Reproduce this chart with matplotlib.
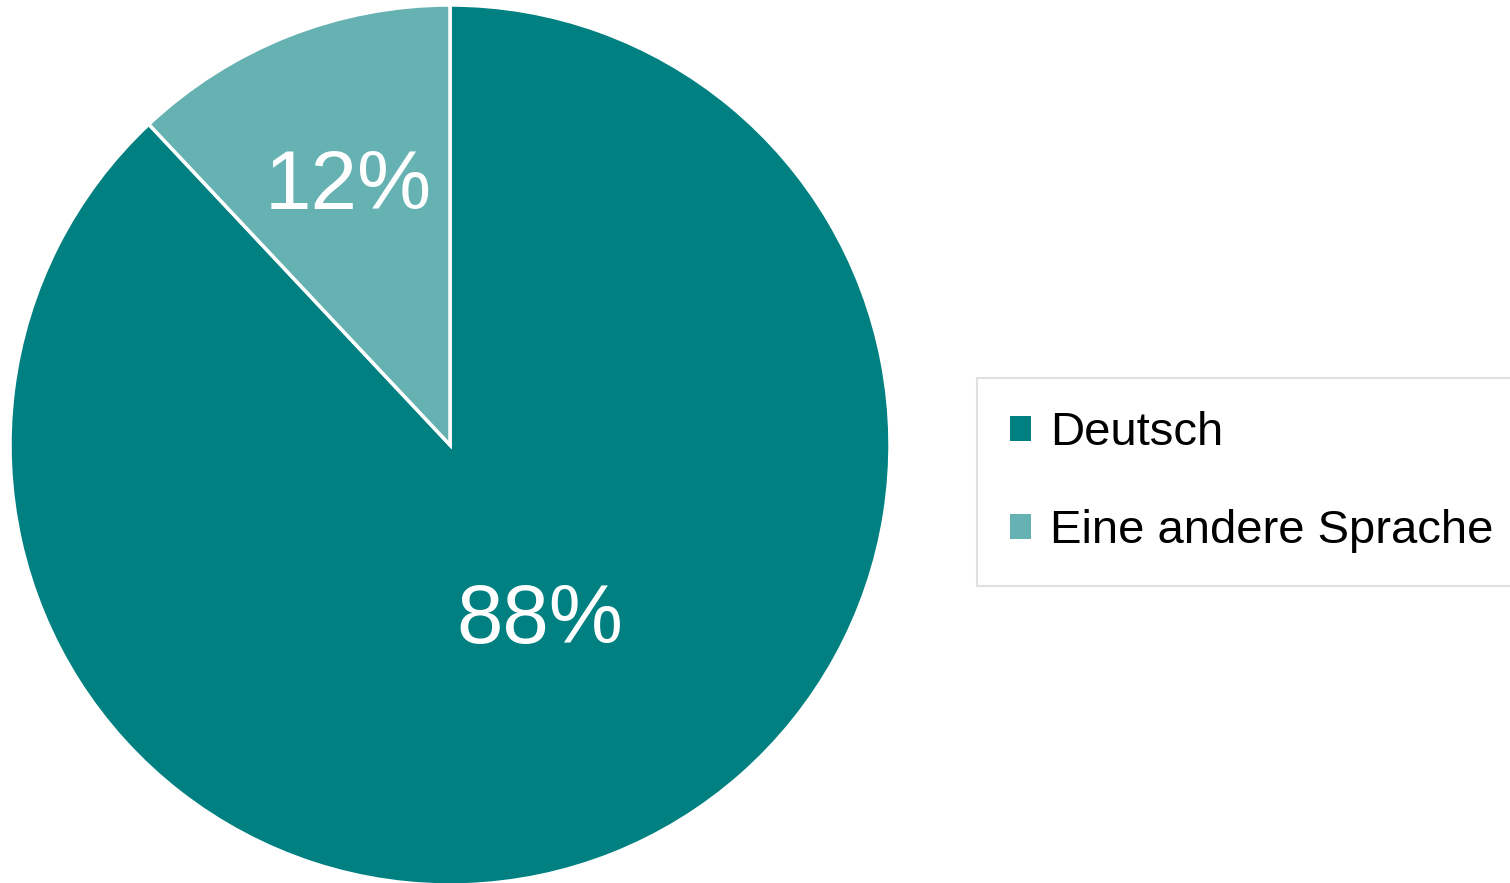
import matplotlib
matplotlib.use('Agg')
import matplotlib.pyplot as plt
from matplotlib.patches import Patch

plt.rcParams['font.family'] = ['Liberation Sans', 'DejaVu Sans']

# data
labels = ['Deutsch', 'Eine andere Sprache']
shares = [88, 12]
colors = ['#008080', '#66B2B2']

fig = plt.figure(figsize=(15.1, 8.83), dpi=100)
# pie axes: centre ~ (450, 445) px, radius ~440 px
ax = fig.add_axes([10 / 1510, (883 - 445 - 440) / 883, 880 / 1510, 880 / 883])

wedges, texts, autotexts = ax.pie(
    shares, colors=colors, startangle=90, counterclock=False,
    autopct='%1.0f%%', pctdistance=0.63, radius=1.0,
    wedgeprops=dict(edgecolor='white', linewidth=2.5),
    textprops=dict(color='white', fontsize=60))
ax.set_xlim(-1, 1)
ax.set_ylim(-1, 1)
ax.set_aspect('equal')

# Excel places the big label a bit differently
autotexts[0].set_position((0.205, -0.40))

handles = [Patch(facecolor=c, edgecolor='none') for c in colors]
leg = fig.legend(handles, labels, loc='upper left',
                 bbox_to_anchor=(977 / 1510, 1 - 378 / 883),
                 borderaxespad=0, fontsize=34, frameon=True, fancybox=False,
                 edgecolor='#d9d9d9', handlelength=0.45, handleheight=0.45,
                 handletextpad=0.4, borderpad=0.7, labelspacing=1.15)
leg.get_frame().set_linewidth(1.5)

fig.savefig('out.png', dpi=100)
